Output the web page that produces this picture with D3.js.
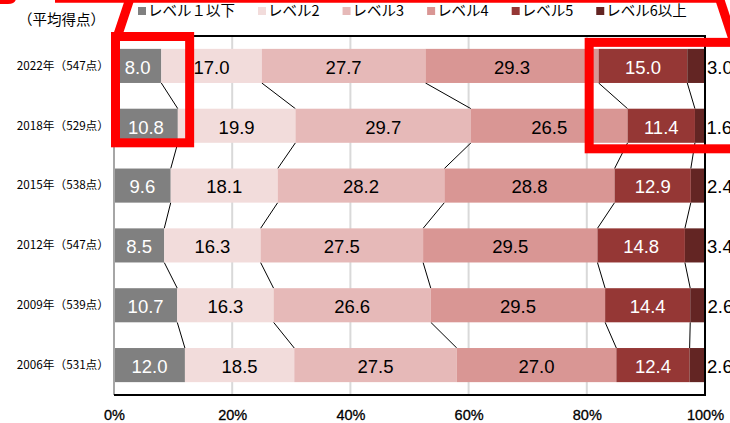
<!DOCTYPE html>
<html>
<head>
<meta charset="utf-8">
<script src="https://cdn.jsdelivr.net/npm/d3@7"></script>
<style>
  body { margin: 0; background: #fff; }
  svg { display: block; }
</style>
</head>
<body>
<svg id="chart" width="730" height="423"></svg>
<script>
// 習熟度レベル別の生徒の割合（%）
const years = ["2022年（547点）", "2018年（529点）", "2015年（538点）", "2012年（547点）", "2009年（539点）", "2006年（531点）"];
const levels = ["レベル１以下", "レベル2", "レベル3", "レベル4", "レベル5", "レベル6以上"];
const level1 = [8.0, 10.8, 9.6, 8.5, 10.7, 12.0];
const level2 = [17.0, 19.9, 18.1, 16.3, 16.3, 18.5];
const level3 = [27.7, 29.7, 28.2, 27.5, 26.6, 27.5];
const level4 = [29.3, 26.5, 28.8, 29.5, 29.5, 27.0];
const level5 = [15.0, 11.4, 12.9, 14.8, 14.4, 12.4];
const level6 = [3.0, 1.6, 2.4, 3.4, 2.6, 2.6];
const xTicks = [0, 20, 40, 60, 80, 100];
const gridTicks = [20, 40, 60, 80];

const colors = ["#808080", "#f2dcdb", "#e6b9b8", "#d99694", "#953735", "#632523"];
const labelColors = ["#fff", "#000", "#000", "#000", "#fff", "#000"];

const series = [level1, level2, level3, level4, level5, level6];
const rows = years.map((yr, i) => {
  const r = { year: yr };
  levels.forEach((lv, k) => { r[lv] = series[k][i]; });
  return r;
});
const stacked = d3.stack().keys(levels)(rows);

const svg = d3.select("#chart");
const jp = "'Noto Sans CJK JP', 'Noto Sans', sans-serif";
const num = "'Liberation Sans', Arial, sans-serif";

const plot = { left: 114, right: 705, top: 36, bottom: 395 };
const x = d3.scaleLinear().domain([0, 100]).range([plot.left, plot.right]);
const y = d3.scaleBand().domain(years).range([plot.top, plot.bottom])
  .paddingInner(0.43).paddingOuter(0.215);
const bw = y.bandwidth();

// vertical gridlines
svg.append("g").selectAll("line").data(gridTicks).join("line")
  .attr("x1", d => x(d)).attr("x2", d => x(d))
  .attr("y1", plot.top).attr("y2", plot.bottom)
  .attr("stroke", "#d9d9d9").attr("stroke-width", 2);

// connector lines between consecutive bars
const connectors = [];
for (let i = 0; i < years.length - 1; i++) {
  for (let k = 0; k < levels.length - 1; k++) {
    connectors.push({
      x1: x(stacked[k][i][1]), y1: y(years[i]) + bw,
      x2: x(stacked[k][i + 1][1]), y2: y(years[i + 1])
    });
  }
}
svg.append("g").selectAll("line").data(connectors).join("line")
  .attr("x1", d => d.x1).attr("y1", d => d.y1)
  .attr("x2", d => d.x2).attr("y2", d => d.y2)
  .attr("stroke", "#000").attr("stroke-width", 1);

// stacked bars
const layer = svg.append("g").selectAll("g").data(stacked).join("g")
  .attr("fill", (d, k) => colors[k]);
layer.selectAll("rect").data(d => d).join("rect")
  .attr("x", d => x(d[0]))
  .attr("width", d => x(d[1]) - x(d[0]))
  .attr("y", d => y(d.data.year))
  .attr("height", bw);

// value labels
const labels = svg.append("g");
stacked.forEach((s, k) => {
  s.forEach(d => {
    const v = d.data[levels[k]];
    const outside = k === levels.length - 1;
    const lx = outside ? x(d[1]) + 2 : (x(d[0]) + x(d[1])) / 2;
    const ly = y(d.data.year) + bw / 2;
    labels.append("text")
      .attr("x", lx).attr("y", ly)
      .attr("dy", "0.42em")
      .attr("text-anchor", outside ? "start" : "middle")
      .attr("font-family", num)
      .attr("font-size", 18.5)
      .attr("fill", labelColors[k])
      .text(v.toFixed(1));
  });
});

// frame
svg.append("line").attr("x1", plot.left).attr("x2", plot.left)
  .attr("y1", plot.top).attr("y2", plot.bottom)
  .attr("stroke", "#a6a6a6").attr("stroke-width", 2);
svg.append("path")
  .attr("d", `M${plot.left},${plot.top}H${plot.right}V${plot.bottom}H${plot.left}`)
  .attr("fill", "none").attr("stroke", "#000").attr("stroke-width", 2);

// x axis labels
const xAxis = svg.append("g")
  .attr("transform", `translate(0,${plot.bottom})`)
  .call(d3.axisBottom(x).tickValues(xTicks).tickSize(0).tickPadding(15).tickFormat(d => d + "%"));
xAxis.select(".domain").remove();
xAxis.selectAll("text")
  .attr("font-family", num).attr("font-size", 14.5).attr("fill", "#000")
  .attr("stroke", "#000").attr("stroke-width", 0.3);

// year labels
const yAxis = svg.append("g")
  .attr("transform", `translate(${plot.left},0)`)
  .call(d3.axisLeft(y).tickSize(0).tickPadding(5));
yAxis.select(".domain").remove();
yAxis.selectAll("text")
  .attr("font-family", jp).attr("font-size", 11.7).attr("fill", "#000");

// unit caption
svg.append("text")
  .attr("x", 18).attr("y", 20).attr("dy", "0.35em")
  .attr("font-family", jp).attr("font-size", 14.5).attr("fill", "#000")
  .text("（平均得点）");

// legend
let lx = 138;
levels.forEach((lv, k) => {
  const g = svg.append("g").attr("transform", `translate(${lx},0)`);
  g.append("rect").attr("x", 0).attr("y", 7).attr("width", 8).attr("height", 8)
    .attr("fill", colors[k]);
  const t = g.append("text").attr("x", 10).attr("y", 11).attr("dy", "0.36em")
    .attr("font-family", jp).attr("font-size", 14.5).attr("fill", "#000")
    .text(lv);
  lx += 10 + t.node().getComputedTextLength() + 23;
});

// red highlight boxes and callout legs
const red = "#ff0000";
const ann = svg.append("g").attr("fill", "none").attr("stroke", red);
const b1 = { x1: x(0) + 1.5, x2: x(12.8), y1: plot.top + 0.5, y2: y(years[1]) + bw };
const b2 = { x1: x(80.4), x2: 745, y1: y(years[0]) - 6.5, y2: y(years[1]) + bw + 6 };
[b1, b2].forEach(b => {
  ann.append("rect").attr("x", b.x1).attr("y", b.y1)
    .attr("width", b.x2 - b.x1).attr("height", b.y2 - b.y1)
    .attr("stroke-width", 9);
});
ann.append("line").attr("x1", b1.x1 + 15).attr("y1", -3).attr("x2", b1.x1 + 1.5).attr("y2", b1.y1 + 1)
  .attr("stroke-width", 9);
ann.append("line").attr("x1", 719).attr("y1", -3).attr("x2", 734).attr("y2", b2.y1)
  .attr("stroke-width", 9);
ann.append("path").attr("d", "M55,1.2H721").attr("stroke-width", 3);
svg.append("path").attr("d", "M0,-1H16Q15,4 8,4H0Z").attr("fill", red);
</script>
</body>
</html>
